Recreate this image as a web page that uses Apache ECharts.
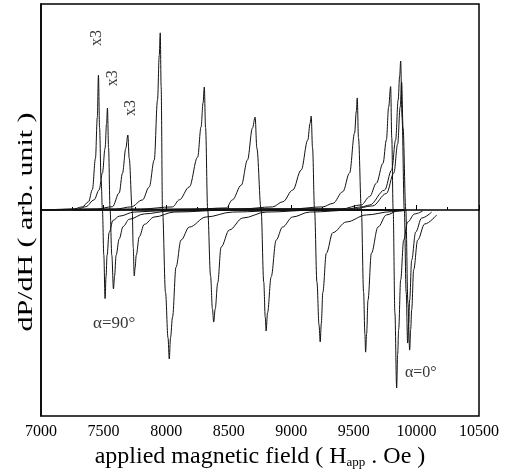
<!DOCTYPE html>
<html>
<head>
<meta charset="utf-8">
<script src="https://cdn.jsdelivr.net/npm/echarts@6/dist/echarts.min.js"></script>
<style>html,body{margin:0;padding:0;background:#fff}#c{width:508px;height:476px}</style>
</head>
<body>
<div id="c"></div>
<script>
// x tick labels
const xTicks = [7000, 7500, 8000, 8500, 9000, 9500, 10000, 10500];
// spectra: [field (Oe), dP/dH (arb.)]
const c1 = [[7000,0],[7250,0.3],[7330,1.5],[7380,4],[7411,10],[7435,25],[7450,45],[7459,65.5],[7468,40],[7480,15],[7491,0],[7502,-22],[7512,-43],[7520,-32],[7528,-22],[7544,-11],[7576,-5],[7625,-3],[7745,-1],[7950,-0.4],[8500,0],[9900,0]];
const c2 = [[7000,0],[7300,0.5],[7358,1.6],[7424,4.9],[7464,9.7],[7491,18],[7512,30],[7524,42],[7531,49.5],[7540,30],[7552,0],[7566,-22],[7579,-38.3],[7588,-32],[7600,-22],[7625,-14],[7656,-8],[7705,-4.5],[7825,-1.9],[8025,-0.5],[8600,0],[9900,0]];
const c3 = [[7000,0],[7450,0.5],[7571,1.6],[7625,8.3],[7651,17.8],[7678,30],[7694,36.4],[7705,25],[7729,0],[7737,-18],[7745,-32],[7752,-28],[7761,-22],[7785,-13],[7825,-7],[7905,-3.4],[8065,-1],[8500,0],[9900,0]];
const c4 = [[7000,0],[7600,0.5],[7720,1.5],[7811,4.9],[7865,11.2],[7905,24.3],[7931,53.4],[7945,75],[7953,86],[7960,60],[7971,0],[7995,-40],[8015,-62],[8025,-72.3],[8035,-62],[8051,-52],[8079,-27.7],[8119,-14.6],[8185,-8.3],[8319,-3.4],[8529,-1],[9000,0],[9900,0]];
const c5 = [[7000,0],[7800,0.5],[8051,1.5],[8105,4.9],[8185,11.2],[8252,25.7],[8279,40.3],[8295,52],[8305,59.7],[8315,40],[8332,0],[8355,-32],[8370,-48],[8380,-54.4],[8392,-48],[8412,-35.4],[8439,-18],[8505,-9.7],[8612,-3.9],[8799,-1],[9200,0],[9900,0]];
const c6 = [[7000,0],[8200,0.3],[8481,1],[8529,4.9],[8601,12.1],[8650,24.3],[8690,39.8],[8711,45.1],[8725,30],[8759,0],[8780,-35],[8792,-52],[8799,-58.7],[8810,-50],[8839,-32.5],[8879,-14.6],[8930,-8.3],[9010,-3.4],[9146,-1],[9500,0],[9900,0]];
const c7 = [[7000,0],[8600,0.5],[8850,1.5],[8932,4],[9012,9.7],[9079,19.4],[9132,34],[9150,42],[9159,45.6],[9170,30],[9186,0],[9205,-35],[9222,-56],[9231,-64],[9240,-55],[9252,-40],[9280,-21],[9332,-11],[9440,-5.8],[9600,-2.4],[9800,-0.8],[9900,-0.3]];
const c8 = [[7000,0],[9000,0.5],[9250,1.5],[9332,3.2],[9412,8.9],[9466,18],[9506,37.4],[9520,48],[9527,54.4],[9537,35],[9560,0],[9578,-40],[9588,-60],[9594,-69],[9602,-60],[9613,-43.7],[9640,-21],[9693,-8.3],[9760,-2.4],[9866,0],[9900,0]];
const c9 = [[7250,0],[9400,0.5],[9560,2.5],[9626,6.5],[9680,13],[9733,22.7],[9760,34],[9778,50],[9794,59.9],[9803,35],[9814,0],[9828,-50],[9842,-86.4],[9850,-70],[9858,-58],[9874,-34],[9898,-14.6],[9930,-5.8],[9986,-1.9],[10050,-0.5]];
const c10 = [[7250,0],[9450,0.5],[9560,1.5],[9626,2.4],[9746,9.7],[9802,19.4],[9834,34],[9854,53.4],[9866,65],[9874,72.3],[9885,45],[9903,0],[9918,-40],[9930,-64.6],[9938,-55],[9946,-43.7],[9962,-24.3],[9994,-10.7],[10042,-3.9],[10122,-1]];
const c11 = [[7250,0],[9500,0.5],[9650,2],[9760,8],[9820,18],[9850,32],[9870,50],[9882,62],[9893,40],[9915,0],[9932,-45],[9946,-68],[9954,-58],[9962,-48.5],[9978,-29],[10010,-14.6],[10066,-6.8],[10162,-2.4]];
// annotations
const annText = ['x3', 'x3', 'x3', 'α=90°', 'α=0°'];
const annX = [7446, 7571, 7718, 7585, 10035];
const annY = [83.5, 64, 49.5, -54.9, -79];
const yTitle = 'dP/dH ( arb. unit )';

const curves = [c1, c2, c3, c4, c5, c6, c7, c8, c9, c10, c11];
const FONT = 'Liberation Serif';

const series = curves.map((d, i) => ({
  type: 'line', data: d, showSymbol: false, symbol: 'none',
  smooth: 0.35, smoothMonotone: 'x',
  lineStyle: { color: '#111', width: 1 }, silent: true, z: 2
}));
series.push({
  type: 'scatter', symbolSize: 0, silent: true, z: 5,
  data: annText.map((t, i) => ({
    value: [annX[i], annY[i]],
    label: {
      show: true, position: 'inside', formatter: t,
      rotate: t === 'x3' ? 90 : 0,
      fontFamily: FONT, fontSize: t === 'x3' ? 16 : (t === 'α=0°' ? 16 : 17), color: '#000'
    }
  }))
});

const chart = echarts.init(document.getElementById('c'), null, { renderer: 'canvas' });
chart.setOption({
  animation: false,
  backgroundColor: '#fff',
  grid: { left: 41, right: 29, top: 4, bottom: 60, show: true, borderColor: '#000', borderWidth: 1.5, backgroundColor: 'transparent' },
  graphic: [{
    type: 'text', x: 27, y: 222, rotation: Math.PI / 2, scaleX: 1.5, scaleY: 1,
    silent: true,
    style: { text: yTitle, font: '20px "Liberation Serif"', fill: '#000', align: 'center', verticalAlign: 'middle' }
  }],
  xAxis: {
    type: 'value', min: 7000, max: 10500, interval: 500,
    axisLine: { show: true, lineStyle: { color: '#000', width: 1.5 } },
    axisTick: { show: true, inside: true, length: 5, lineStyle: { color: '#000', width: 1 } },
    minorTick: { show: true, splitNumber: 2, length: 3, lineStyle: { color: '#000', width: 1 } },
    splitLine: { show: false },
    axisLabel: { color: '#000', fontFamily: FONT, fontSize: 16, margin: 8,
      formatter: v => xTicks.includes(v) ? String(v) : '' },
    name: 'applied magnetic field ( H{s|app} . Oe )',
    nameLocation: 'middle', nameGap: 25,
    nameTextStyle: { color: '#000', fontFamily: FONT, fontSize: 24,
      rich: { s: { fontFamily: FONT, fontSize: 13, color: '#000', verticalAlign: 'bottom', padding: [12, 0, 0, 0] } } }
  },
  yAxis: {
    type: 'value', min: -100, max: 100,
    axisLine: { show: true, lineStyle: { color: '#000', width: 1.5 } },
    axisTick: { show: false }, axisLabel: { show: false }, splitLine: { show: false }
  },
  series: series
});
</script>
</body>
</html>
